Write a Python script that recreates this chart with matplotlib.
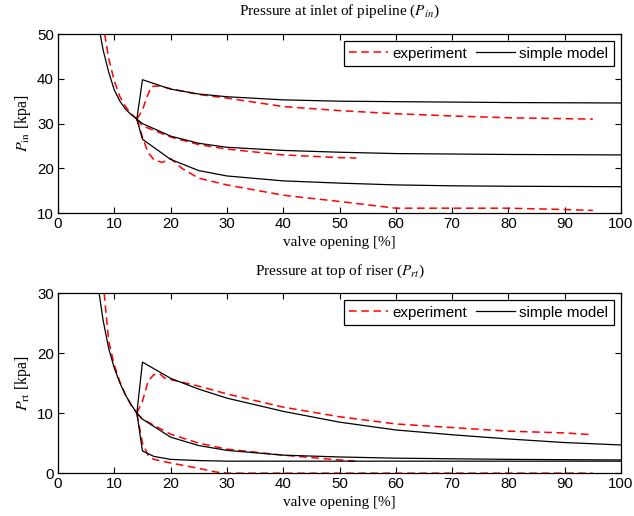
import numpy as np
import matplotlib.pyplot as plt

plt.rcParams['font.family'] = ['Liberation Sans', 'DejaVu Sans']
plt.rcParams['mathtext.fontset'] = 'stix'

# ---- top panel: P_in ----
pin_mod_common_x = [7.5, 8, 9, 10, 11, 12, 13, 14]
pin_mod_common_y = [50, 46.5, 41.5, 37.5, 35.0, 33.2, 32.0, 31.0]
pin_mod_up_x = [14, 15, 20, 25, 30, 40, 50, 60, 70, 80, 100]
pin_mod_up_y = [31.0, 39.8, 37.7, 36.6, 36.0, 35.3, 35.0, 34.9, 34.8, 34.7, 34.6]
pin_mod_mid_x = [14, 15, 20, 25, 30, 40, 50, 60, 70, 80, 100]
pin_mod_mid_y = [31.0, 30.0, 27.2, 25.6, 24.7, 24.0, 23.6, 23.3, 23.2, 23.1, 23.0]
pin_mod_low_x = [14, 15, 20, 25, 30, 40, 50, 60, 70, 80, 100]
pin_mod_low_y = [31.0, 26.5, 22.0, 19.5, 18.3, 17.2, 16.7, 16.3, 16.1, 16.0, 15.9]

pin_exp_common_x = [8.3, 9, 10, 11, 12, 13, 14]
pin_exp_common_y = [50, 44.5, 39.5, 36, 33.8, 32.2, 31.0]
pin_exp_up_x = [14, 15, 15.8, 16.6, 18, 20, 25, 30, 40, 50, 60, 70, 80, 90, 95]
pin_exp_up_y = [31.0, 33.0, 36.0, 38.3, 38.4, 37.8, 36.5, 35.7, 33.8, 32.9, 32.2, 31.7, 31.3, 31.1, 31.0]
pin_exp_mid_x = [14, 15, 20, 25, 30, 40, 50, 53]
pin_exp_mid_y = [31.0, 29.5, 27.0, 25.3, 24.3, 23.0, 22.4, 22.3]
pin_exp_low_x = [14, 15, 16, 17, 18.5, 20, 22, 25, 30, 40, 50, 60, 70, 80, 90, 95]
pin_exp_low_y = [31.0, 27.0, 23.5, 22.0, 21.3, 22.2, 20.0, 17.8, 16.3, 14.0, 12.6, 11.1, 11.1, 11.1, 10.8, 10.6]

# ---- bottom panel: P_rt ----
prt_mod_common_x = [7.3, 8, 9, 10, 11, 12, 13, 14]
prt_mod_common_y = [30, 25.5, 20.8, 17.5, 15.0, 13.0, 11.4, 10.0]
prt_mod_up_x = [14, 15, 20, 25, 30, 40, 50, 60, 70, 80, 90, 100]
prt_mod_up_y = [10.0, 18.5, 15.8, 14.0, 12.5, 10.3, 8.5, 7.2, 6.4, 5.7, 5.1, 4.7]
prt_mod_mid_x = [14, 15, 20, 25, 30, 40, 50, 60, 70, 80, 100]
prt_mod_mid_y = [10.0, 9.0, 6.0, 4.6, 3.8, 3.0, 2.7, 2.5, 2.4, 2.3, 2.2]
prt_mod_low_x = [14, 15, 17, 20, 25, 30, 40, 100]
prt_mod_low_y = [10.0, 3.7, 2.8, 2.3, 2.1, 2.0, 2.0, 2.0]

prt_exp_common_x = [8.2, 9, 10, 11, 12, 13, 14]
prt_exp_common_y = [30, 22.0, 18.0, 15.2, 13.0, 11.3, 10.0]
prt_exp_up_x = [14, 15, 16, 17, 18, 19, 20, 25, 30, 40, 50, 60, 70, 80, 90, 95]
prt_exp_up_y = [10.0, 12.0, 15.3, 16.4, 16.6, 15.8, 15.6, 14.5, 13.2, 11.0, 9.4, 8.2, 7.6, 7.0, 6.7, 6.4]
prt_exp_mid_x = [14, 15, 20, 25, 30, 40, 50, 53]
prt_exp_mid_y = [10.0, 9.0, 6.5, 5.0, 4.0, 3.0, 2.2, 2.0]
prt_exp_low_x = [14, 15, 16, 17, 20, 25, 28, 30, 40, 60, 80, 95]
prt_exp_low_y = [10.0, 5.0, 3.0, 2.3, 1.7, 0.8, 0.2, 0.0, 0.0, 0.0, 0.0, 0.0]

fig = plt.figure(figsize=(6.34, 5.16), dpi=100)
ax1 = fig.add_axes([0.0915, 0.587, 0.888, 0.347])
ax2 = fig.add_axes([0.0915, 0.083, 0.888, 0.349])

red_kw = dict(color='red', ls=(0, (5, 3)), lw=1.1)
blk_kw = dict(color='black', lw=0.9)
serif = 'Liberation Serif'


def panel(ax, exp_sets, mod_sets, ylim, yticks, title, ylabel):
    for i, (x, y) in enumerate(exp_sets):
        ax.plot(x, y, label='experiment' if i == 0 else None, **red_kw)
    for i, (x, y) in enumerate(mod_sets):
        ax.plot(x, y, label='simple model' if i == 0 else None, **blk_kw)
    ax.set_xlim(0, 100)
    ax.set_ylim(*ylim)
    ax.set_xticks(range(0, 101, 10))
    ax.set_yticks(yticks)
    ax.tick_params(direction='in', top=True, right=True, labelsize=10.8, length=4, pad=3)
    ax.set_title(title, fontname=serif, fontsize=11, pad=13.5)
    ax.set_xlabel('valve opening [%]', fontname=serif, fontsize=11, labelpad=3.5)
    ax.set_ylabel(ylabel, fontname=serif, fontsize=11.5, labelpad=3)
    for s in ax.spines.values():
        s.set_linewidth(0.9)
    leg = ax.legend(loc='upper right', ncol=2, fontsize=10.9, fancybox=False,
                    edgecolor='black', framealpha=1, handlelength=2.55,
                    columnspacing=0.6, handletextpad=0.3, borderpad=0.38,
                    borderaxespad=0.45)
    leg.get_frame().set_linewidth(0.9)


panel(ax1,
      [(pin_exp_common_x, pin_exp_common_y), (pin_exp_up_x, pin_exp_up_y),
       (pin_exp_mid_x, pin_exp_mid_y), (pin_exp_low_x, pin_exp_low_y)],
      [(pin_mod_common_x, pin_mod_common_y), (pin_mod_up_x, pin_mod_up_y),
       (pin_mod_mid_x, pin_mod_mid_y), (pin_mod_low_x, pin_mod_low_y)],
      (10, 50), [10, 20, 30, 40, 50],
      r'Pressure at inlet of pipeline ($P_{in}$)', r'$P_{\mathrm{in}}$ [kpa]')

panel(ax2,
      [(prt_exp_common_x, prt_exp_common_y), (prt_exp_up_x, prt_exp_up_y),
       (prt_exp_mid_x, prt_exp_mid_y), (prt_exp_low_x, prt_exp_low_y)],
      [(prt_mod_common_x, prt_mod_common_y), (prt_mod_up_x, prt_mod_up_y),
       (prt_mod_mid_x, prt_mod_mid_y), (prt_mod_low_x, prt_mod_low_y)],
      (0, 30), [0, 10, 20, 30],
      r'Pressure at top of riser ($P_{rt}$)', r'$P_{\mathrm{rt}}$ [kpa]')

fig.savefig('out.png', dpi=100)
